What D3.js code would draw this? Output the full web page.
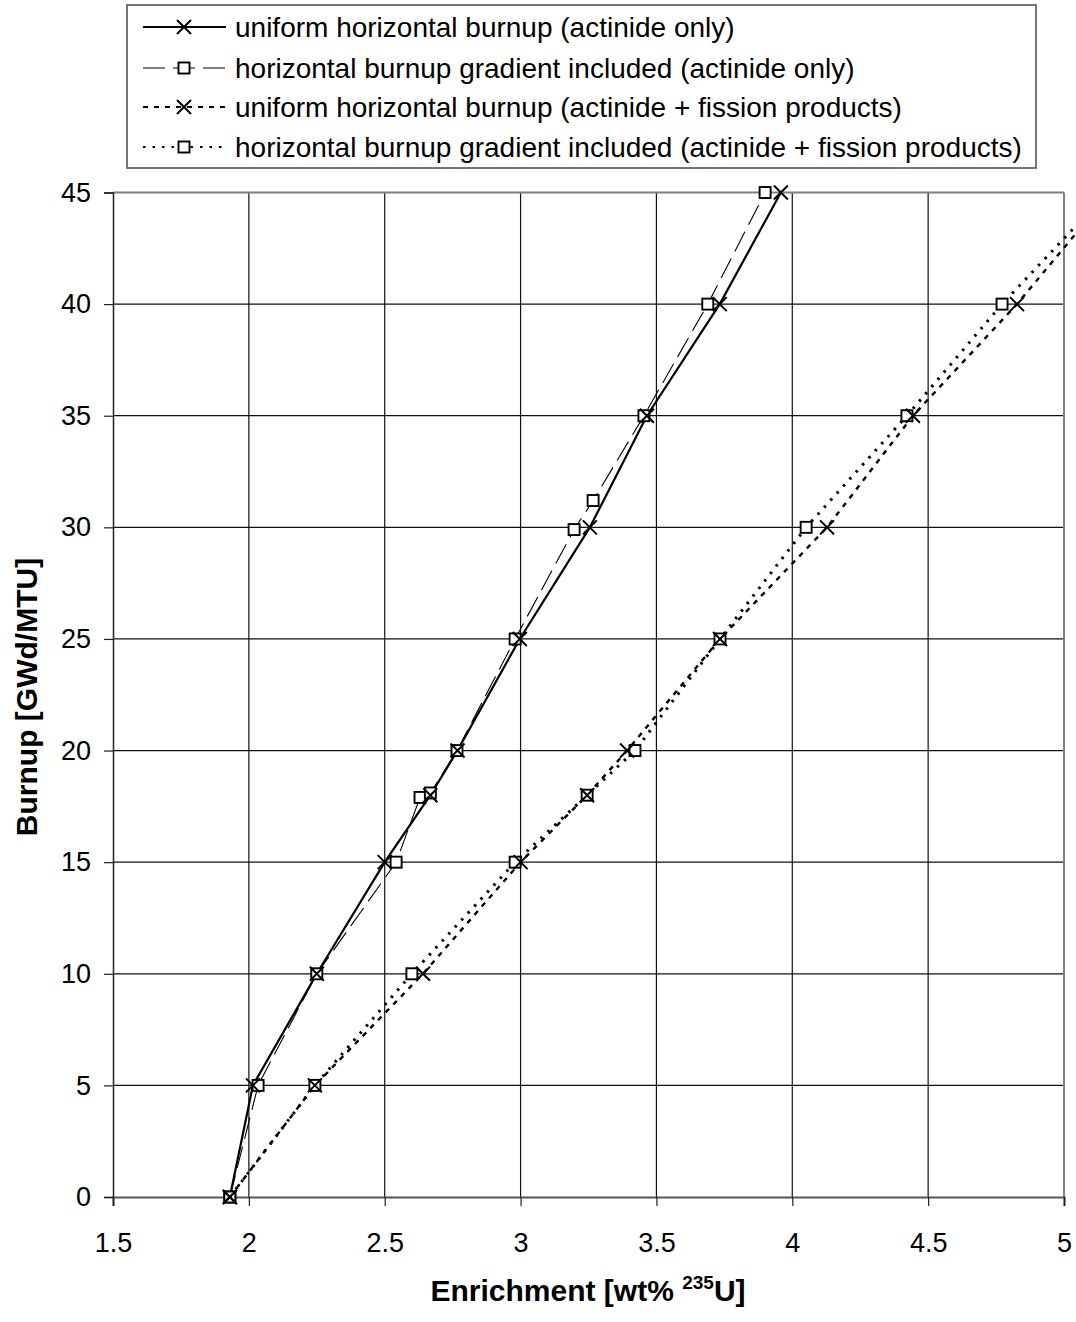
<!DOCTYPE html>
<html>
<head>
<meta charset="utf-8">
<script src="https://cdn.jsdelivr.net/npm/d3@7"></script>
<style>
  html, body { margin: 0; padding: 0; background: #fff; }
  svg { display: block; font-family: "Liberation Sans", Arial, sans-serif; }
</style>
</head>
<body>
<svg id="chart" width="1076" height="1322"></svg>
<script>
// ---- data ----
const seriesNames = [
  "uniform horizontal burnup (actinide only)",
  "horizontal burnup gradient included (actinide only)",
  "uniform horizontal burnup (actinide + fission products)",
  "horizontal burnup gradient included (actinide + fission products)"
];
const burnup1 = [0, 5, 10, 15, 18, 20, 25, 30, 35, 40, 45];
const enrich1 = [1.93, 2.015, 2.25, 2.5, 2.668, 2.768, 2.997, 3.255, 3.465, 3.733, 3.958];

const burnup2 = [0, 5, 10, 15, 17.9, 18.1, 20, 25, 29.9, 31.2, 35, 40, 45];
const enrich2 = [1.93, 2.034, 2.25, 2.542, 2.63, 2.668, 2.766, 2.98, 3.197, 3.267, 3.454, 3.689, 3.9];

const burnup3 = [0, 5, 10, 15, 18, 20, 25, 30, 35, 40, 45];
const enrich3 = [1.93, 2.243, 2.641, 3.0, 3.245, 3.392, 3.734, 4.128, 4.444, 4.827, 5.17];

const burnup4 = [0, 5, 10, 15, 18, 20, 25, 30, 35, 40, 45];
const enrich4 = [1.93, 2.243, 2.6, 2.98, 3.245, 3.421, 3.734, 4.051, 4.422, 4.772, 5.16];

const xTicks = [1.5, 2, 2.5, 3, 3.5, 4, 4.5, 5];
const yTicks = [0, 5, 10, 15, 20, 25, 30, 35, 40, 45];

// ---- layout ----
const svg = d3.select("#chart");
const plot = { left: 113, right: 1064, top: 192.5, bottom: 1197 };
const x = d3.scaleLinear().domain([1.5, 5]).range([plot.left, plot.right]);
const y = d3.scaleLinear().domain([0, 45]).range([plot.bottom, plot.top]);

const styles = [
  { width: 2.2, dash: null,    marker: "x" },
  { width: 1.1, dash: "22 8",  marker: "sq" },
  { width: 2.4, dash: "5 6",   marker: "x" },
  { width: 3,   dash: "2.5 7", marker: "sq" }
];
const series = [
  burnup1.map((b, i) => ({ x: enrich1[i], y: b })),
  burnup2.map((b, i) => ({ x: enrich2[i], y: b })),
  burnup3.map((b, i) => ({ x: enrich3[i], y: b })),
  burnup4.map((b, i) => ({ x: enrich4[i], y: b }))
];

// gridlines
const grid = svg.append("g");
grid.selectAll("line.v").data(xTicks.slice(1, -1)).join("line")
  .attr("x1", d => x(d)).attr("x2", d => x(d))
  .attr("y1", plot.top).attr("y2", plot.bottom)
  .attr("stroke", "#111").attr("stroke-width", 1.2);
grid.selectAll("line.h").data(yTicks.slice(1, -1)).join("line")
  .attr("x1", plot.left).attr("x2", plot.right)
  .attr("y1", d => y(d)).attr("y2", d => y(d))
  .attr("stroke", "#111").attr("stroke-width", 1.2);
// border top/right gray
svg.append("line").attr("x1", plot.left).attr("x2", plot.right)
  .attr("y1", plot.top).attr("y2", plot.top).attr("stroke", "#808080").attr("stroke-width", 2);
svg.append("line").attr("x1", plot.right).attr("x2", plot.right)
  .attr("y1", plot.top).attr("y2", plot.bottom).attr("stroke", "#808080").attr("stroke-width", 2);

// axes
const xAxis = d3.axisBottom(x).tickValues(xTicks).tickSize(9).tickPadding(27)
  .tickFormat(d => String(d));
const gx = svg.append("g").attr("transform", `translate(0,${plot.bottom})`).call(xAxis);
gx.select(".domain").attr("stroke", "#555").attr("stroke-width", 2.2);
gx.selectAll(".tick line").attr("stroke", "#222").attr("stroke-width", 1.2);
gx.selectAll(".tick text").attr("font-size", 27).attr("fill", "#000")
  .attr("font-family", "Liberation Sans, Arial, sans-serif");

const yAxis = d3.axisLeft(y).tickValues(yTicks).tickSize(9).tickPadding(13)
  .tickFormat(d => String(d));
const gy = svg.append("g").attr("transform", `translate(${plot.left},0)`).call(yAxis);
gy.select(".domain").attr("stroke", "#222").attr("stroke-width", 1.5);
gy.selectAll(".tick line").attr("stroke", "#222").attr("stroke-width", 1.2);
gy.selectAll(".tick text").attr("font-size", 27).attr("fill", "#000")
  .attr("font-family", "Liberation Sans, Arial, sans-serif");

// lines
const line = d3.line().x(d => x(d.x)).y(d => y(d.y));
series.forEach((s, i) => {
  svg.append("path").datum(s).attr("d", line)
    .attr("fill", "none").attr("stroke", "#000")
    .attr("stroke-width", styles[i].width)
    .attr("stroke-dasharray", styles[i].dash);
});

// markers
function drawMarker(g, type, cx, cy) {
  if (type === "sq") {
    g.append("rect").attr("x", cx - 5.5).attr("y", cy - 5.5)
      .attr("width", 11).attr("height", 11)
      .attr("fill", "#fff").attr("stroke", "#000").attr("stroke-width", 1.9);
  } else {
    const r = 7;
    g.append("path")
      .attr("d", `M${cx - r},${cy - r}L${cx + r},${cy + r}M${cx - r},${cy + r}L${cx + r},${cy - r}`)
      .attr("stroke", "#000").attr("stroke-width", 2).attr("fill", "none");
  }
}
const mk = svg.append("g");
[1, 3, 0, 2].forEach(i => {
  series[i].forEach(p => drawMarker(mk, styles[i].marker, x(p.x), y(p.y)));
});

// legend
const leg = svg.append("g");
leg.append("rect").attr("x", 127).attr("y", 5).attr("width", 909).attr("height", 163)
  .attr("fill", "#fff").attr("stroke", "#666").attr("stroke-width", 1.8);
const rowY = [27, 68, 107, 147];
seriesNames.forEach((name, i) => {
  const yy = rowY[i];
  leg.append("line").attr("x1", 143).attr("x2", 226).attr("y1", yy).attr("y2", yy)
    .attr("stroke", "#000").attr("stroke-width", Math.min(styles[i].width, 2.2))
    .attr("stroke-dasharray", styles[i].dash);
  drawMarker(leg, styles[i].marker, 184, yy);
  leg.append("text").attr("x", 235).attr("y", yy).attr("dy", "0.36em")
    .attr("font-size", 28).text(name);
});

// axis titles
const xt = svg.append("text").attr("x", 588).attr("y", 1301)
  .attr("text-anchor", "middle").attr("font-weight", "bold").attr("font-size", 30);
xt.append("tspan").text("Enrichment [wt% ");
xt.append("tspan").attr("font-size", 19).attr("dy", -12).text("235");
xt.append("tspan").attr("dy", 12).text("U]");

svg.append("text")
  .attr("transform", "translate(37,697) rotate(-90)")
  .attr("text-anchor", "middle").attr("font-weight", "bold").attr("font-size", 30)
  .text("Burnup [GWd/MTU]");
</script>
</body>
</html>
